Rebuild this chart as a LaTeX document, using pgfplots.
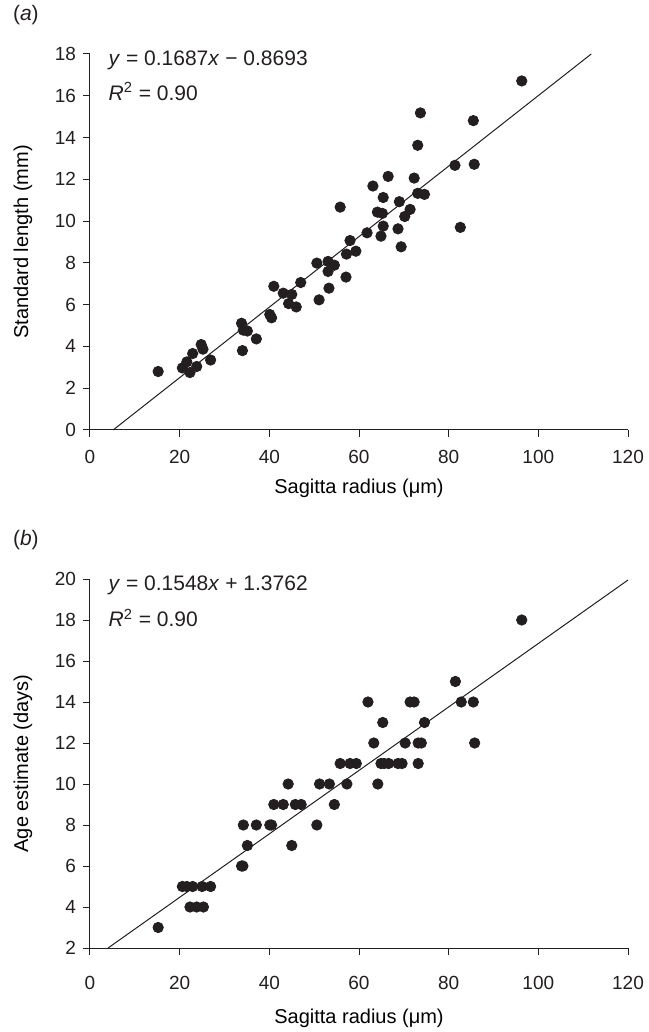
\documentclass[border=0pt]{standalone}
\usepackage{fontspec}
\setmainfont{Liberation Sans}
\usepackage{pgfplots}
\pgfplotsset{compat=1.18}

\definecolor{ink}{RGB}{35,31,32}

\tikzset{eq/.style={anchor=west, font=\fontsize{10.5}{12}\selectfont, text=ink}}

\pgfplotsset{
  sag/.style={
    scale only axis,
    width=269pt,
    xmin=0, xmax=120,
    xtick={0,20,...,120},
    axis x line*=bottom,
    axis y line*=left,
    axis line style={ink, line width=0.5pt},
    tick style={ink, line width=0.5pt},
    tick align=outside,
    major tick length=3.5pt,
    tick label style={font=\fontsize{9.5}{11}\selectfont, text=ink},
    xticklabel style={yshift=-3pt},
    label style={font=\fontsize{11}{12}\selectfont, text=ink},
    every axis y label/.style={at={([xshift=-33.5pt]rel axis cs:0,0.5)}, rotate=90, anchor=center},
    /pgf/number format/assume math mode=true,
    xlabel={Sagitta radius (μm)},
    clip=false,
  },
  dots/.style={only marks, mark=*, mark size=2.6pt, ink, mark options={fill=ink, draw=ink}},
  fit/.style={ink, line width=0.5pt, no marks},
}

\begin{document}
\begin{tikzpicture}

% (a) standard length vs sagitta radius
\begin{axis}[sag,
    height=188pt,
    ymin=0, ymax=18,
    ytick={0,2,...,18},
    ylabel={Standard length (mm)},
    every axis x label/.style={at={([yshift=-29pt]rel axis cs:0.5,0)}, anchor=center},
  ]
  \addplot[fit] coordinates {(5.15,0) (111.8,18)};
  \addplot[dots] coordinates {
    (15.2,2.80) (20.6,2.97) (21.6,3.26) (22.3,2.75) (22.9,3.66) (23.8,3.04)
    (24.8,4.09) (25.2,3.87) (26.9,3.35) (33.8,5.11) (34.2,4.78) (35.1,4.74)
    (34.0,3.80) (37.1,4.36) (40.1,5.53) (40.5,5.37) (41.0,6.88) (43.1,6.55)
    (45.0,6.49) (44.3,6.05) (46.0,5.89) (47.0,7.06) (50.6,7.99) (51.1,6.23)
    (53.1,8.07) (53.1,7.59) (54.5,7.89) (53.3,6.79) (57.1,7.32) (57.2,8.42)
    (58.0,9.07) (59.3,8.56) (55.8,10.67) (61.8,9.44) (63.1,11.68) (64.1,10.43)
    (65.2,10.37) (65.4,11.13) (65.4,9.76) (64.9,9.28) (66.5,12.14) (68.7,9.63)
    (69.0,10.93) (69.4,8.77) (70.2,10.22) (71.4,10.56) (72.3,12.06) (73.1,13.63)
    (73.1,11.33) (73.7,15.18) (74.6,11.28) (81.4,12.67) (82.6,9.70) (85.5,14.81)
    (85.7,12.72) (96.3,16.71)
  };
  \node[eq] at (axis cs:2.6,17.7) {\textit{y} = 0.1687\textit{x} − 0.8693};
  \node[eq] at (axis cs:2.6,16.2) {\textit{R}\textsuperscript{2} = 0.90};
\end{axis}

% (b) age estimate vs sagitta radius
\begin{axis}[sag,
    at={(0pt,-259pt)},
    height=184.5pt,
    ymin=2, ymax=20,
    ytick={2,4,...,20},
    ylabel={Age estimate (days)},
    xticklabel style={yshift=-4pt},
    every axis x label/.style={at={([yshift=-35pt]rel axis cs:0.5,0)}, anchor=center},
  ]
  \addplot[fit] coordinates {(4.03,2) (120,19.95)};
  \addplot[dots] coordinates {
    (15.2,3)
    (22.3,4) (23.8,4) (25.3,4)
    (20.6,5) (21.6,5) (22.9,5) (25.0,5) (26.9,5)
    (33.8,6) (34.1,6)
    (35.1,7) (45.0,7)
    (34.2,8) (37.1,8) (40.1,8) (40.5,8) (50.6,8)
    (41.0,9) (43.1,9) (45.8,9) (47.1,9) (54.5,9)
    (44.2,10) (51.2,10) (53.4,10) (57.3,10) (64.2,10)
    (55.8,11) (58.0,11) (59.4,11) (64.9,11) (65.6,11) (66.6,11) (68.7,11) (69.6,11) (73.2,11)
    (63.3,12) (70.3,12) (73.2,12) (73.9,12) (85.8,12)
    (65.3,13) (74.6,13)
    (62.0,14) (71.4,14) (72.3,14) (82.8,14) (85.5,14)
    (81.5,15)
    (96.3,18)
  };
  \node[eq] at (axis cs:2.6,19.7) {\textit{y} = 0.1548\textit{x} + 1.3762};
  \node[eq] at (axis cs:2.6,18.1) {\textit{R}\textsuperscript{2} = 0.90};
\end{axis}

% panel letters
\node[eq] at (-42pt,207.5pt) {(\textit{a})};
\node[eq] at (-42pt,-55pt) {(\textit{b})};

\pgfresetboundingbox
\path[use as bounding box] (-45pt,-301pt) rectangle (279pt,215pt);
\end{tikzpicture}
\end{document}
